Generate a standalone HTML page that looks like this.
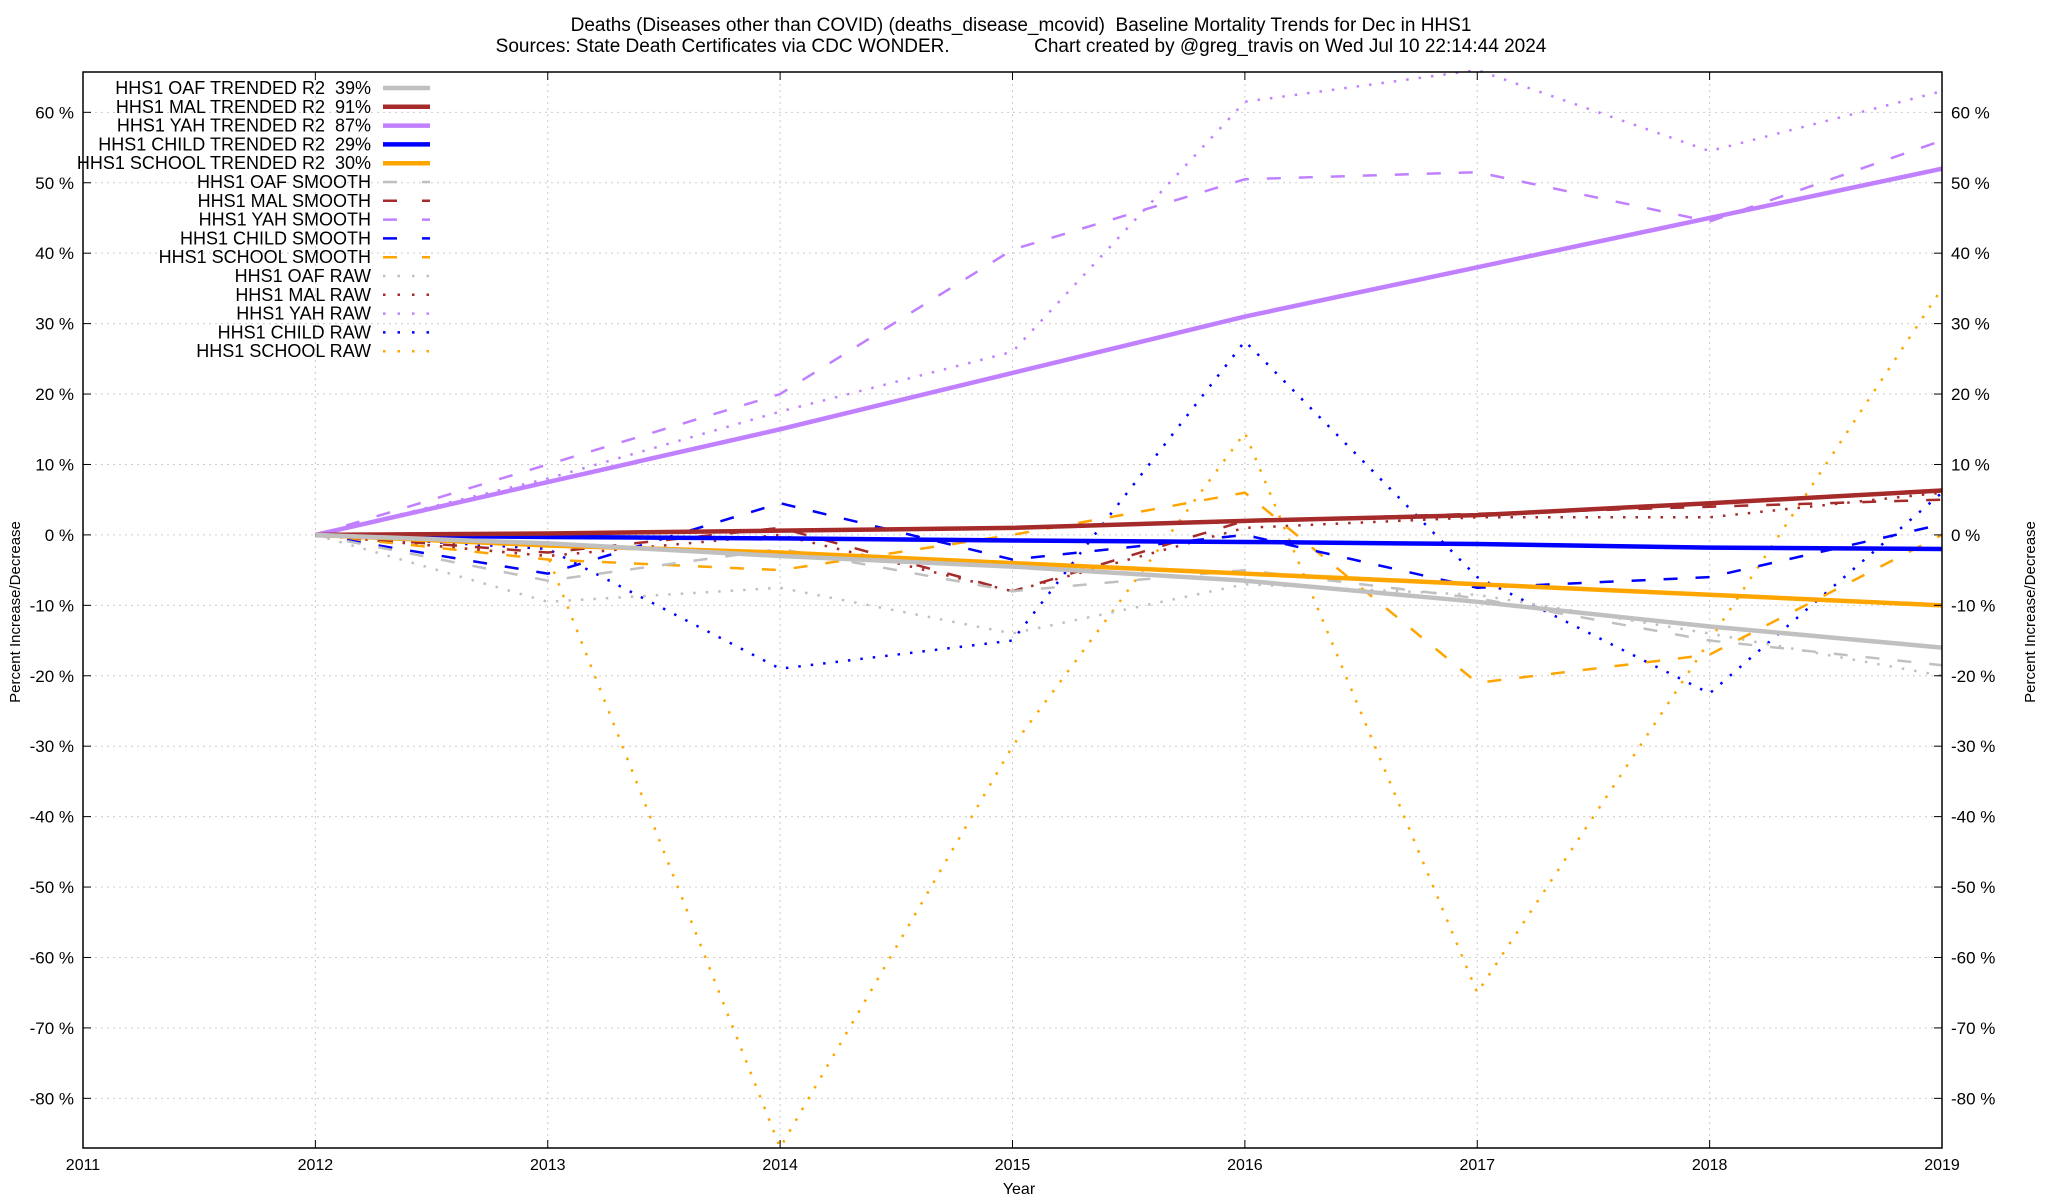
<!DOCTYPE html>
<html><head><meta charset="utf-8"><style>
body{margin:0;background:#fff;}
svg{display:block;font-family:"Liberation Sans",sans-serif;}
text{white-space:pre;}
</style></head><body>
<svg id="chart" width="2048" height="1200">
<text x="1021" y="31" font-size="19" text-anchor="middle">Deaths (Diseases other than COVID) (deaths_disease_mcovid)  Baseline Mortality Trends for Dec in HHS1</text>
<text x="1021" y="52" font-size="19" text-anchor="middle">Sources: State Death Certificates via CDC WONDER.                Chart created by @greg_travis on Wed Jul 10 22:14:44 2024</text>
<g id="grid"></g><g id="series"></g><g id="axes"></g><g id="legend"></g>
</svg>
<script>
const years = [2012,2013,2014,2015,2016,2017,2018,2019];
const xTicks = [2011,2012,2013,2014,2015,2016,2017,2018,2019];
const yTicks = [60,50,40,30,20,10,0,-10,-20,-30,-40,-50,-60,-70,-80];
const oafTrend = [0,-1.2,-3,-4.5,-6.5,-9.5,-13,-16];
const malTrend = [0,0.2,0.6,1,2,2.8,4.5,6.3];
const yahTrend = [0,7.5,15,23,31,38,45,52];
const childTrend = [0,-0.3,-0.5,-0.8,-1,-1.3,-1.8,-2];
const schoolTrend = [0,-1.5,-2.5,-4,-5.5,-7,-8.5,-10];
const oafSmooth = [0,-6.5,-2,-8,-5,-9,-15,-18.5];
const malSmooth = [0,-2.5,1,-8,2,3,4,5];
const yahSmooth = [0,10,20,40.5,50.5,51.5,44.5,56];
const childSmooth = [0,-5.5,4.5,-3.5,0,-7.5,-6,1.5];
const schoolSmooth = [0,-3.5,-5,0,6,-21,-17,0];
const oafRaw = [0,-9.5,-7.5,-14,-7,-8.5,-14,-20];
const malRaw = [0,-3,0,-8,1,2.5,2.5,6];
const yahRaw = [0,8,17.5,26,61.5,66,54.5,63];
const childRaw = [0,-2,-19,-15,27.5,-6,-22.5,6];
const schoolRaw = [0,-3,-87,-30,14.5,-65,-15,35];

const L=83,R=1942,T=72,B=1148;
const X=v=>L+(v-2011)*(R-L)/8;
const Y=v=>534.9-v*7.043;
const NS='http://www.w3.org/2000/svg';
function mk(tag,parent,attrs){const e=document.createElementNS(NS,tag);for(const k in attrs)e.setAttribute(k,attrs[k]);parent.appendChild(e);return e;}
const grid=document.getElementById('grid'),axes=document.getElementById('axes'),ser=document.getElementById('series'),leg=document.getElementById('legend');
xTicks.forEach(t=>{
  const x=X(t);
  if(t>2011&&t<2019){const g=mk('line',grid,{x1:x,x2:x,y1:T,y2:B,stroke:'#ccc','stroke-width':1,'stroke-dasharray':'2,4'});
  
  }
  mk('line',axes,{x1:x,x2:x,y1:B,y2:B-8,stroke:'#000'});
  mk('line',axes,{x1:x,x2:x,y1:T,y2:T+8,stroke:'#000'});
  const lb=mk('text',axes,{x:x,y:1170,'font-size':16,'text-anchor':'middle'});lb.textContent=t;
  
  
});
yTicks.forEach(t=>{
  const y=Y(t);
  const g=mk('line',grid,{x1:L,x2:R,y1:y,y2:y,stroke:'#ccc','stroke-width':1,'stroke-dasharray':'2,4'});
  
  
  mk('line',axes,{x1:L,x2:L+8,y1:y,y2:y,stroke:'#000'});
  mk('line',axes,{x1:R,x2:R-8,y1:y,y2:y,stroke:'#000'});
  const a=mk('text',axes,{x:74,y:y+6,'font-size':17,'text-anchor':'end'});a.textContent=t+' %';
  
  
  const b=mk('text',axes,{x:1951,y:y+6,'font-size':17}); b.textContent=t+' %';
  
  
});
const fr=mk('rect',axes,{x:L,y:T,width:R-L,height:B-T,fill:'none',stroke:'#000','stroke-width':1.5});


const xt=mk('text',axes,{x:1019,y:1194,'font-size':16,'text-anchor':'middle'});xt.textContent='Year';


const yl=mk('text',axes,{x:0,y:0,'font-size':15,'text-anchor':'middle',transform:'translate(20,612) rotate(-90)'});yl.textContent='Percent Increase/Decrease';


const yr=mk('text',axes,{x:0,y:0,'font-size':15,'text-anchor':'middle',transform:'translate(2035,612) rotate(-90)'});yr.textContent='Percent Increase/Decrease';



const C={oaf:'#c0c0c0',mal:'#a52a2a',yah:'#c080ff',child:'#0000ff',school:'#ffa500'};
const styles={trend:{w:4.5,d:''},smooth:{w:2.5,d:'14,18'},raw:{w:2.5,d:'2.5,10'}};
const defs=[
 ['HHS1 OAF TRENDED R2  39%','trend',C.oaf,years,oafTrend],
 ['HHS1 MAL TRENDED R2  91%','trend',C.mal,years,malTrend],
 ['HHS1 YAH TRENDED R2  87%','trend',C.yah,years,yahTrend],
 ['HHS1 CHILD TRENDED R2  29%','trend',C.child,years,childTrend],
 ['HHS1 SCHOOL TRENDED R2  30%','trend',C.school,years,schoolTrend],
 ['HHS1 OAF SMOOTH','smooth',C.oaf,years,oafSmooth],
 ['HHS1 MAL SMOOTH','smooth',C.mal,years,malSmooth],
 ['HHS1 YAH SMOOTH','smooth',C.yah,years,yahSmooth],
 ['HHS1 CHILD SMOOTH','smooth',C.child,years,childSmooth],
 ['HHS1 SCHOOL SMOOTH','smooth',C.school,years,schoolSmooth],
 ['HHS1 OAF RAW','raw',C.oaf,years,oafRaw],
 ['HHS1 MAL RAW','raw',C.mal,years,malRaw],
 ['HHS1 YAH RAW','raw',C.yah,years,yahRaw],
 ['HHS1 CHILD RAW','raw',C.child,years,childRaw],
 ['HHS1 SCHOOL RAW','raw',C.school,years,schoolRaw]];
[...defs].reverse().forEach(d=>{
  const st=styles[d[1]];
  const pts=d[3].map((yr,i)=>X(yr)+','+Y(d[4][i])).join(' ');
  const p=mk('polyline',ser,{points:pts,fill:'none',stroke:d[2],'stroke-width':st.w,'stroke-dasharray':st.d,'stroke-linejoin':'round'});
  
  
});
defs.forEach((d,i)=>{
  const y=88+i*18.8, st=styles[d[1]];
  const t=mk('text',leg,{x:371,y:y+6,'font-size':18,'text-anchor':'end'});t.textContent=d[0];
  
  
  const s=mk('line',leg,{x1:383,x2:430,y1:y,y2:y,stroke:d[2],'stroke-width':st.w,'stroke-dasharray':d[1]=='smooth'?'14,25':(d[1]=='raw'?'2.5,12':'')});
  
  
});
</script>
</body></html>
